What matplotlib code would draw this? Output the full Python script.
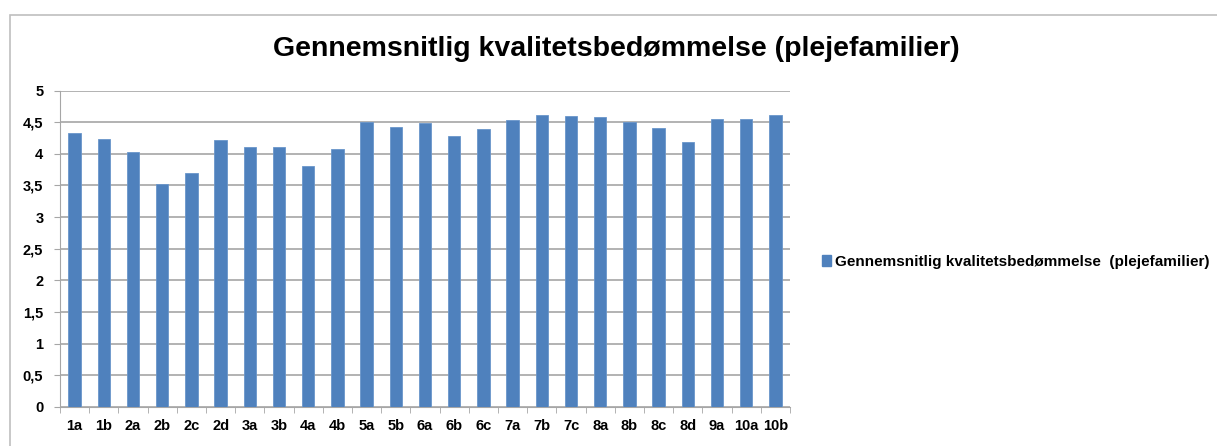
import matplotlib
matplotlib.use("Agg")
import matplotlib.pyplot as plt
from matplotlib.patches import Rectangle, Patch
from matplotlib.ticker import FuncFormatter, MultipleLocator

categories = ["1a", "1b", "2a", "2b", "2c", "2d", "3a", "3b", "4a", "4b", "5a", "5b",
              "6a", "6b", "6c", "7a", "7b", "7c", "8a", "8b", "8c", "8d", "9a", "10a", "10b"]
values = [4.33, 4.24, 4.03, 3.52, 3.69, 4.22, 4.11, 4.11, 3.80, 4.08, 4.50, 4.43,
          4.48, 4.28, 4.39, 4.53, 4.62, 4.60, 4.58, 4.51, 4.41, 4.18, 4.55, 4.55, 4.62]
series_name = "Gennemsnitlig kvalitetsbedømmelse  (plejefamilier)"
title = "Gennemsnitlig kvalitetsbedømmelse (plejefamilier)"

bar_color = "#4F81BD"
grid_color = "#A6A6A6"
fonts = ["Liberation Sans", "DejaVu Sans"]

W, H = 1217, 446
fig = plt.figure(figsize=(W / 100, H / 100), dpi=100)

# outer chart border (runs off the right and bottom edges)
fig.patches.append(Rectangle((10 / W, -0.1), 1.2, 1 - 15 / H + 0.1, transform=fig.transFigure,
                             fill=False, edgecolor="#BFBFBF", linewidth=1.2))

ax = fig.add_axes([60 / W, 39 / H, 730 / W, (407 - 90.5) / H])
x = range(len(categories))
ax.bar(x, values, width=0.42, color=bar_color, edgecolor="#6A96CB", linewidth=0.6, zorder=3)

ax.set_ylim(0, 5)
ax.set_xlim(-0.5, len(categories) - 0.5)
ax.yaxis.set_major_locator(MultipleLocator(0.5))
ax.yaxis.set_major_formatter(FuncFormatter(lambda v, p: f"{v:g}".replace(".", ",")))
ax.grid(axis="y", color=grid_color, linewidth=1.2, zorder=0)

for s in ["top", "right"]:
    ax.spines[s].set_visible(False)
ax.spines["left"].set_color(grid_color)
ax.spines["bottom"].set_color(grid_color)

ax.set_xticks(x)
ax.set_xticklabels(categories, fontweight="bold", fontsize=10.5, family=fonts)
ax.set_xticks([i - 0.5 for i in range(len(categories) + 1)], minor=True)
ax.tick_params(axis="x", which="major", length=0, pad=9)
ax.tick_params(axis="x", which="minor", length=4, color=grid_color)
ax.tick_params(axis="y", length=4, color=grid_color, pad=8)
for lab in ax.get_yticklabels():
    lab.set_fontweight("bold")
    lab.set_fontsize(10.5)
    lab.set_family(fonts)

fig.text(616 / W, 1 - 49 / H, title, ha="center", va="center", fontsize=20.5,
         fontweight="bold", family=fonts)

handle = Patch(facecolor=bar_color, edgecolor=bar_color)
fig.legend([handle], [series_name], loc="center left", bbox_to_anchor=(808 / W, 1 - 262 / H),
           frameon=False, handlelength=0.6, handleheight=0.7, handletextpad=0.25,
           prop={"family": fonts, "weight": "bold", "size": 11})

fig.savefig("out.png", dpi=100)
